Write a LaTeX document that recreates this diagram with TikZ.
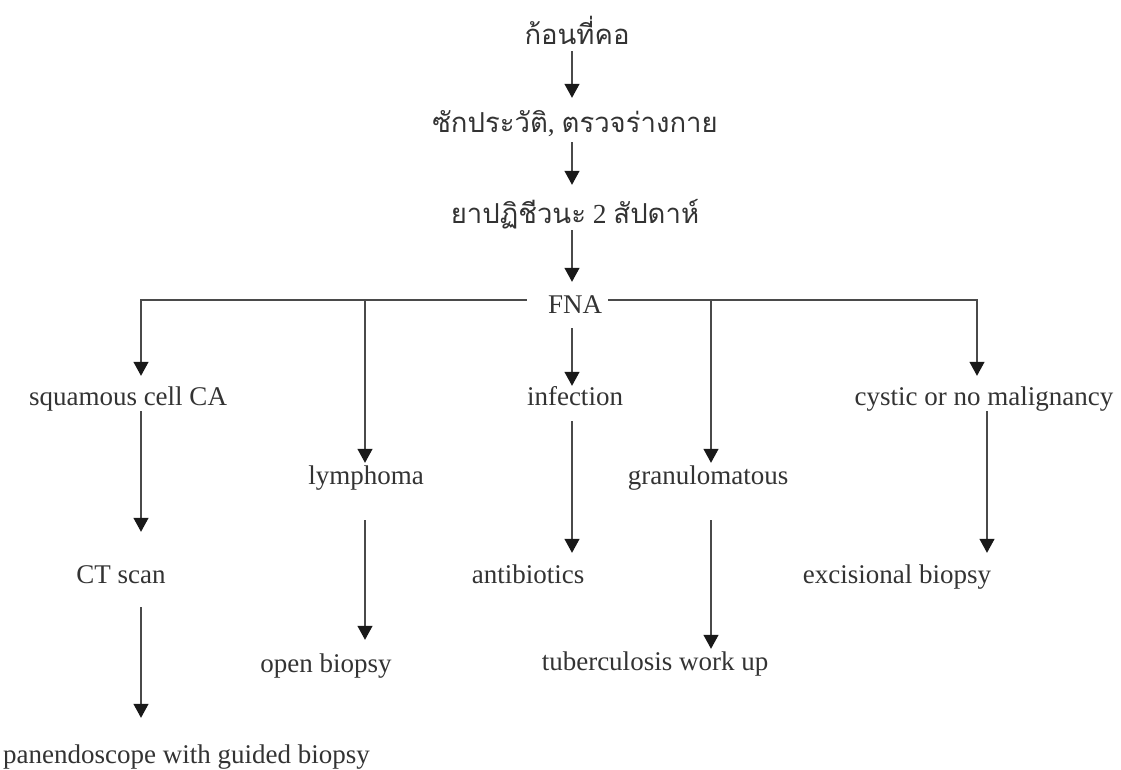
\documentclass[tikz,border=0pt]{standalone}
\usepackage{fontspec}
\setmainfont{Liberation Serif}
\newfontfamily\thaifont[Script=Thai]{Loma}
\usetikzlibrary{arrows.meta}
\definecolor{txt}{HTML}{333333}
\definecolor{ln}{HTML}{4A4A4A}
\begin{document}
\begin{tikzpicture}[x=1pt,y=-1pt,
  lbl/.style={anchor=base,inner sep=0pt,text height=19pt,text depth=6pt,text=txt,font=\fontsize{27}{30}\selectfont},
  thai/.style={lbl,font=\fontsize{27.5}{30}\selectfont},
  arr/.style={draw=ln,line width=1.3pt,-{Triangle[width=15pt,length=14pt,color=black!90]}},
  ln/.style={draw=ln,line width=1.3pt}]
\useasboundingbox (0,0) rectangle (1121,770);
% columns
\coordinate (k0) at (572,0);
\coordinate (k1) at (141,0);
\coordinate (k2) at (365,0);
\coordinate (k3) at (572,0);
\coordinate (k4) at (711,0);
\coordinate (k5) at (977,0);
\coordinate (k5b) at (987,0);
% nodes
\node[thai] (top) at (577,45) {\thaifont ก้อนที่คอ};
\node[thai] (hist) at (575,133) {{\thaifont ซักประวัติ}, {\thaifont ตรวจร่างกาย}};
\node[thai] (abx) at (575,223) {{\thaifont ยาปฏิชีวนะ} 2 {\thaifont สัปดาห์}};
\node[lbl,text height=26pt,text depth=0pt,inner xsep=6pt] (fna) at (575,313) {FNA};
\node[lbl] (sq) at (128,405) {squamous cell CA};
\node[lbl] (inf) at (575,405) {infection};
\node[lbl] (cys) at (984,405) {cystic or no malignancy};
\node[lbl] (lym) at (366,484) {lymphoma};
\node[lbl] (gran) at (708,484) {granulomatous};
\node[lbl] (ct) at (121,583) {CT scan};
\node[lbl] (anti) at (528,583) {antibiotics};
\node[lbl] (exc) at (897,583) {excisional biopsy};
\node[lbl] (ob) at (326,672) {open biopsy};
\node[lbl] (tb) at (655,670) {tuberculosis work up};
\node[lbl,anchor=base west] (pan) at (3,763) {panendoscope with guided biopsy};
% connectors
\draw[arr,shorten >=16pt] (k0 |- top.south) -- (k0 |- hist.north);
\draw[arr,shorten <=3pt,shorten >=19pt] (k0 |- hist.south) -- (k0 |- abx.north);
\draw[arr,shorten <=1pt,shorten >=5pt] (k0 |- abx.south) -- (k0 |- fna.north);
\draw[arr,shorten <=15pt,shorten >=10pt] (fna.west) -| (k1 |- sq.north);
\draw[arr,shorten >=2pt] (k2 |- fna.west) -- (k2 |- lym.north);
\draw[arr,shorten <=15pt] (k3 |- fna.south) -- (k3 |- inf.north);
\draw[arr,shorten >=2pt] (k4 |- fna.east) -- (k4 |- gran.north);
\draw[arr,shorten <=0pt,shorten >=10pt] (fna.east) -| (k5 |- cys.north);
\draw[arr,shorten >=32pt] (k1 |- sq.south) -- (k1 |- ct.north);
\draw[arr,shorten <=18pt,shorten >=26pt] (k1 |- ct.south) -- (k1 |- pan.north);
\draw[arr,shorten <=30pt,shorten >=13pt] (k2 |- lym.south) -- (k2 |- ob.north);
\draw[arr,shorten <=10pt,shorten >=11pt] (k3 |- inf.south) -- (k3 |- anti.north);
\draw[arr,shorten <=30pt,shorten >=2pt] (k4 |- gran.south) -- (k4 |- tb.north);
\draw[arr,shorten >=11pt] (k5b |- cys.south) -- (k5b |- exc.north);
\end{tikzpicture}
\end{document}
